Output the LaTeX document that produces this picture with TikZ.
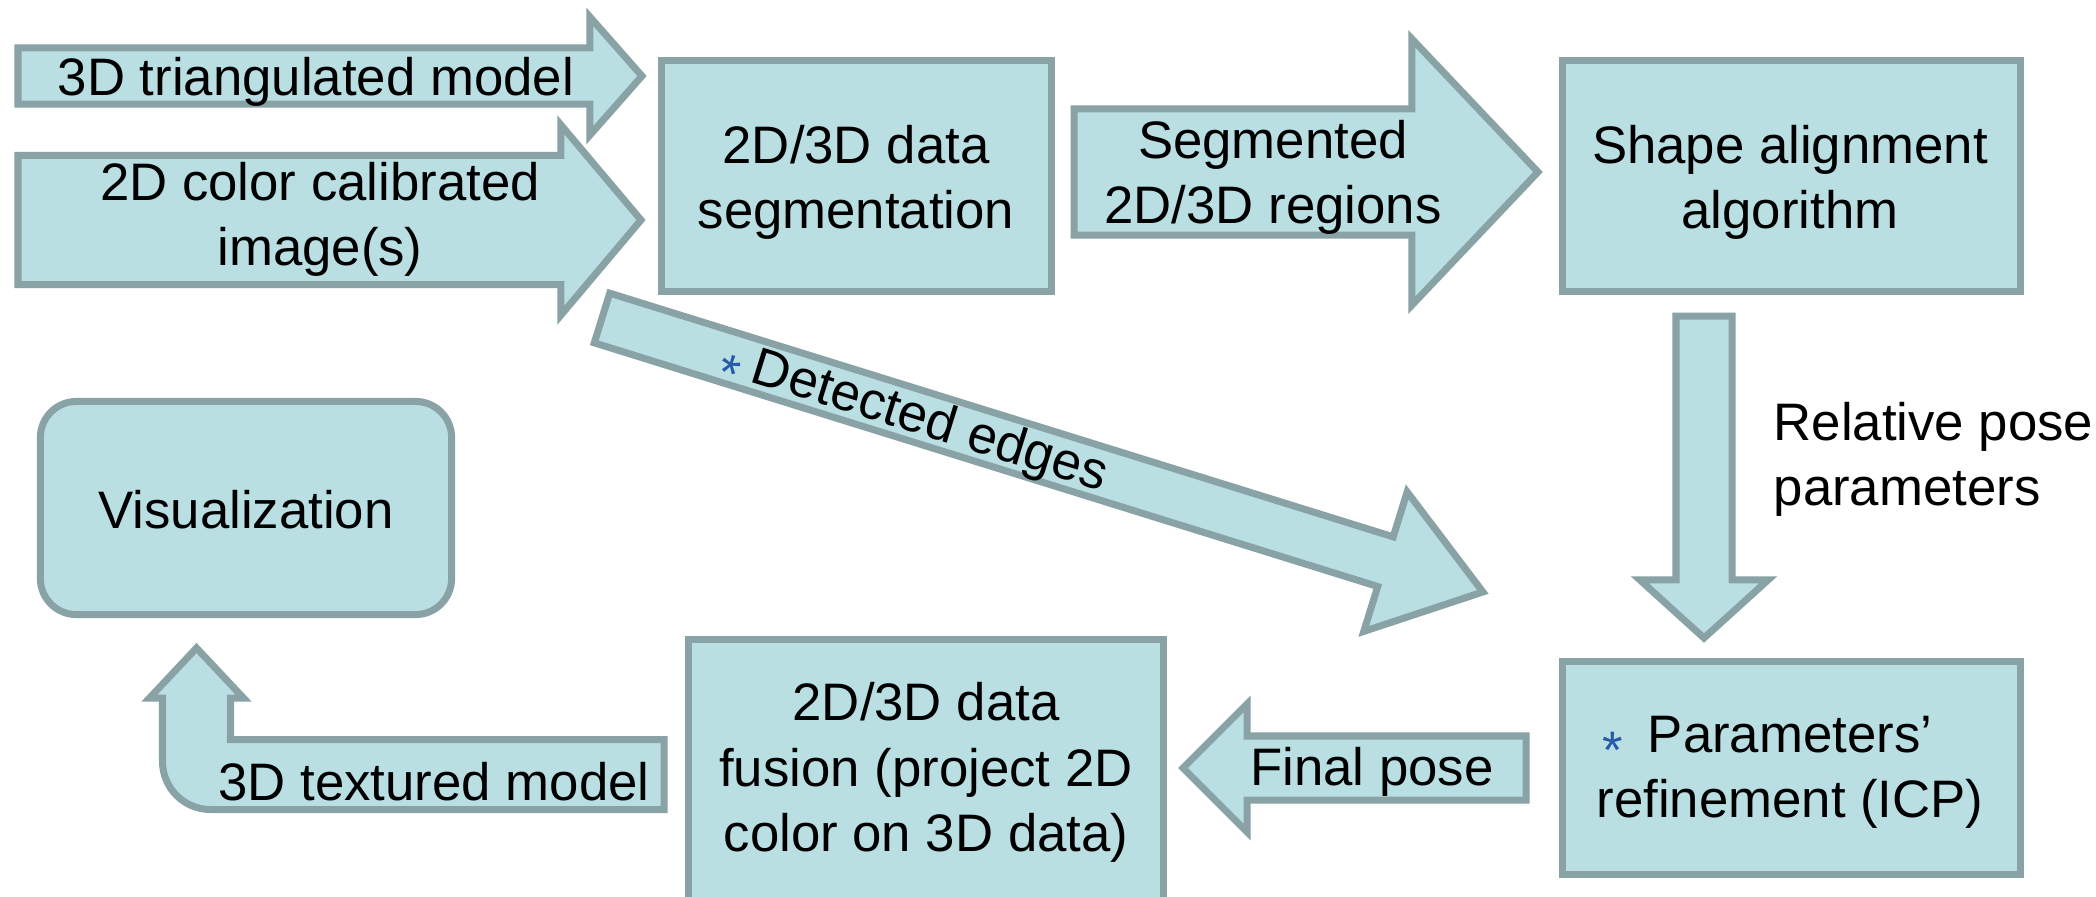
\documentclass[tikz,border=0pt]{standalone}
\usepackage{fontspec}
\setmainfont{Liberation Sans}
\usetikzlibrary{calc}

\definecolor{boxfill}{RGB}{186,223,227}
\definecolor{boxline}{RGB}{136,162,165}
\definecolor{starblue}{RGB}{40,90,170}

\tikzset{
  shapefill/.style={fill=boxfill, draw=boxline, line width=0.07cm, line join=miter},
  procbox/.style={shapefill, rectangle, inner sep=0pt, outer sep=0pt},
  blockarrow/.style={shapefill},
  lbl/.style={font=\fontsize{15}{18.5}\selectfont, inner sep=0pt, align=center, text=black},
  star/.style={font=\fontsize{15}{18}\selectfont, inner sep=0pt, text=starblue},
}

% Block arrow from a tail coordinate to a tip coordinate:
% #3 shaft half-width, #4 head half-width, #5 head length
\newcommand{\blockarrow}[5]{%
  \path let \p1=(#1), \p2=(#2) in
    \pgfextra{%
      \pgfmathsetmacro\baang{atan2(\y2-\y1,\x2-\x1)}%
      \pgfmathsetmacro\balen{veclen(\x2-\x1,\y2-\y1)}%
      \global\let\baang\baang\global\let\balen\balen};
  \begin{scope}[shift={(#1)}, rotate=\baang]
    \draw[blockarrow] (0pt,-#3) -- ({\balen pt-#5},-#3) -- ({\balen pt-#5},-#4)
      -- (\balen pt,0pt) -- ({\balen pt-#5},#4) -- ({\balen pt-#5},#3)
      -- (0pt,#3) -- cycle;
  \end{scope}}

\begin{document}
\begin{tikzpicture}[x=0.01cm, y=-0.01cm]
\useasboundingbox (0,0) rectangle (2096,896);
\clip (0,0) rectangle (2096,896);

% process boxes
\node[procbox, minimum width=3.90cm, minimum height=2.31cm] (seg) at (856.5,176) {};
\node[procbox, minimum width=4.58cm, minimum height=2.31cm] (align) at (1791.5,176) {};
\node[procbox, minimum width=4.58cm, minimum height=2.13cm] (icp) at (1791.5,768) {};
\node[procbox, minimum width=4.75cm, minimum height=2.67cm] (fusion) at (926,773) {};
\node[procbox, rounded corners=0.36cm, minimum width=4.11cm, minimum height=2.13cm] (vis) at (246,508) {};

% block arrows
\coordinate (a1tail) at (18,76);     \coordinate (a1tip) at (642,76);
\coordinate (a2tail) at (18,220);    \coordinate (a2tip) at (641,220);
\coordinate (a3tail) at (1074,172);  \coordinate (a3tip) at (1538,172);
\coordinate (a4tail) at (1704,316);  \coordinate (a4tip) at (1704,638);
\coordinate (a5tail) at (1526,768);  \coordinate (a5tip) at (1183,768);
\coordinate (a7tail) at (602,318);   \coordinate (a7tip) at (1483,592);

\blockarrow{a1tail}{a1tip}{0.28cm}{0.59cm}{0.52cm}
\blockarrow{a2tail}{a2tip}{0.645cm}{0.95cm}{0.80cm}
\blockarrow{a3tail}{a3tip}{0.63cm}{1.33cm}{1.26cm}
\blockarrow{a4tail}{a4tip}{0.28cm}{0.64cm}{0.58cm}
\blockarrow{a5tail}{a5tip}{0.32cm}{0.64cm}{0.64cm}
\blockarrow{a7tail}{a7tip}{0.26cm}{0.73cm}{1.02cm}

% bent arrow from the fusion box up to the visualization box
\coordinate (a6tail) at (664,774);
\coordinate (a6tip) at (196.5,648);
\draw[blockarrow] (a6tip) -- (243.5,698) -- (230.5,698) -- (230.5,739.5)
  -- (664,739.5) -- (664,809.5) -- (210.5,809.5)
  .. controls (184,809.5) and (162.5,788) .. (162.5,761.5)
  -- (162.5,698) -- (149.5,698) -- cycle;

% labels
\node[lbl, anchor=north] (t1) at (316,57) {3D triangulated model};
\node[lbl, anchor=north] (t2) at (320,162) {2D color calibrated\\image(s)};
\node[lbl, anchor=north] (tseg) at (856,125) {2D/3D data\\segmentation};
\node[lbl, anchor=north] (t3) at (1273,120) {Segmented\\2D/3D regions};
\node[lbl, anchor=north] (talign) at (1790,125) {Shape alignment\\algorithm};
\node[lbl, anchor=north west, align=left] (t4) at (1773,402) {Relative pose\\parameters};
\node[lbl, anchor=north] (ticp) at (1790,715) {Parameters’\\refinement (ICP)};
\node[star, anchor=base] (sicp) at (1613,768) {*};
\node[lbl, anchor=north] (t5) at (1372,747) {Final pose};
\node[lbl, anchor=north] (tfusion) at (926,682) {2D/3D data\\fusion (project 2D\\color on 3D data)};
\node[lbl, anchor=north] (t6) at (434,762) {3D textured model};
\node[lbl, anchor=north] (tvis) at (246,490) {Visualization};
\node[lbl, anchor=base west, rotate=-17.3] (t7) at (748,381) {Detected edges};
\node[star, anchor=base, rotate=-17.3] (s7) at (723,391) {*};
\end{tikzpicture}
\end{document}
